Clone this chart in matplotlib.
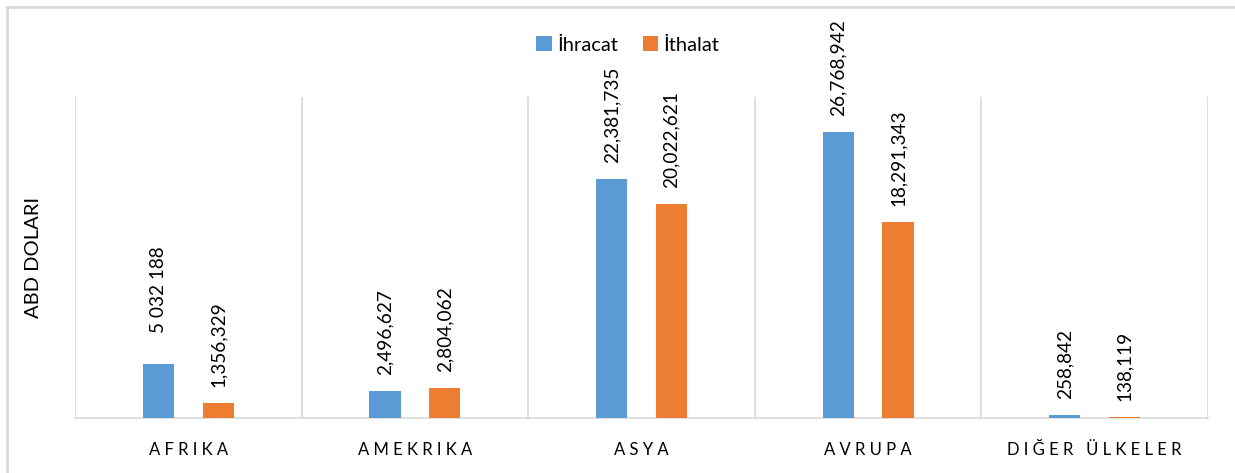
import matplotlib.pyplot as plt
from matplotlib.patches import Rectangle
import numpy as np

# data
regions = ['AFRIKA', 'AMEKRIKA', 'ASYA', 'AVRUPA', 'DIĞER ÜLKELER']
ihracat = [5032188, 2496627, 22381735, 26768942, 258842]
ithalat = [1356329, 2804062, 20022621, 18291343, 138119]
ihracat_labels = ['5 032 188', '2,496,627', '22,381,735', '26,768,942', '258,842']
ithalat_labels = ['1,356,329', '2,804,062', '20,022,621', '18,291,343', '138,119']

plt.rcParams['font.family'] = ['Lato', 'DejaVu Sans']

fig = plt.figure(figsize=(12.35, 4.73), dpi=100)
ax = fig.add_axes([75 / 1235, 55 / 473, 1133 / 1235, 321 / 473])

# outer frame (only top/left visible in reference)
fig.patches.append(Rectangle((7 / 1235, -0.1), 1.2, (466 - -47) / 473,
                             transform=fig.transFigure, fill=False,
                             edgecolor='#D9D9D9', linewidth=2))

x = np.arange(len(regions))
w = 0.137
off = 0.132
b1 = ax.bar(x - off, ihracat, w, color='#5B9BD5', label='İhracat', zorder=3)
b2 = ax.bar(x + off, ithalat, w, color='#ED7D31', label='İthalat', zorder=3)

for i, (bar, lab) in enumerate(zip(b1, ihracat_labels)):
    pad = 31 if i == 0 else 16
    ax.annotate(lab, (bar.get_x() + bar.get_width() / 2, bar.get_height()),
                xytext=(0, pad * 0.72), textcoords='offset points',
                rotation=90, ha='center', va='bottom', fontsize=13.7, color='#000000')
for bar, lab in zip(b2, ithalat_labels):
    ax.annotate(lab, (bar.get_x() + bar.get_width() / 2, bar.get_height()),
                xytext=(0, 16 * 0.72), textcoords='offset points',
                rotation=90, ha='center', va='bottom', fontsize=13.7, color='#000000')

ax.set_xlim(-0.5, len(regions) - 0.5)
ax.set_ylim(0, 30000000)
ax.set_yticks([])
ax.set_xticks(x)
ax.set_xticklabels([' '.join(r) for r in regions], fontsize=12)
ax.tick_params(axis='x', length=0, pad=17)

for b in np.arange(-0.5, len(regions), 1.0):
    ax.axvline(b, color='#D9D9D9', linewidth=1.2, zorder=1)

for s in ['top', 'right', 'left']:
    ax.spines[s].set_visible(False)
ax.spines['bottom'].set_color('#D9D9D9')
ax.spines['bottom'].set_linewidth(1.2)

ax.set_ylabel('ABD DOLARI', fontsize=14.5, labelpad=24)

fig.legend(loc='center', bbox_to_anchor=(628 / 1235, 1 - 45 / 473), ncol=2,
           frameon=False, fontsize=14.5, handlelength=0.75, handleheight=0.75,
           handletextpad=0.3, columnspacing=1.2)

fig.savefig('out.png', dpi=100)
